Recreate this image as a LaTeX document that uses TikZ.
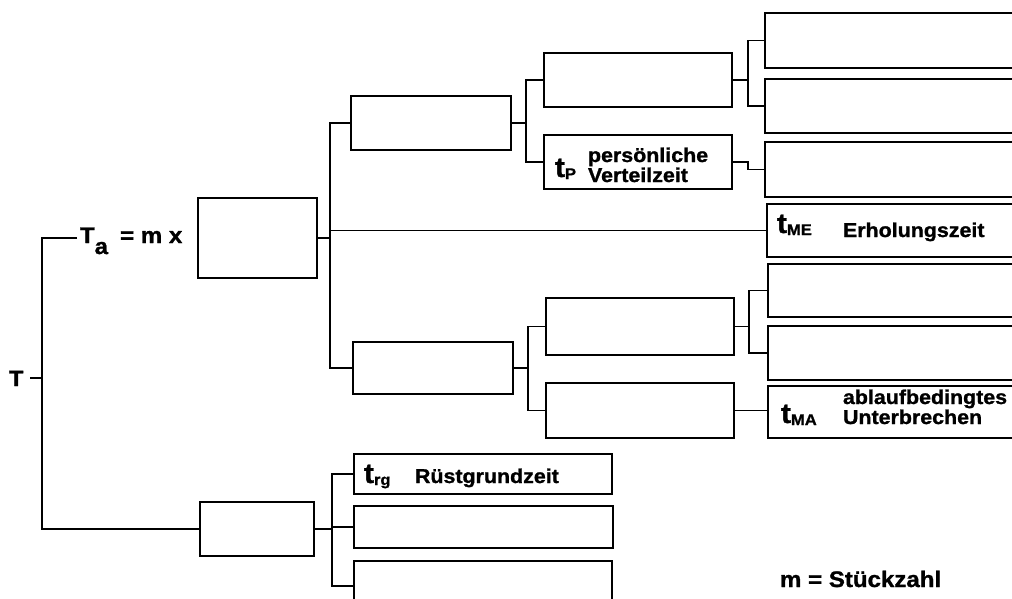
\documentclass[tikz,border=0pt]{standalone}
\usepackage{fontspec}
\setmainfont[FakeStretch=1.07,BoldFeatures={FakeBold=1.2}]{Liberation Sans}
\newcommand{\lbl}{\fontsize{20}{21}\selectfont\bfseries}
\newcommand{\bigt}[1]{{\fontsize{28}{28}\selectfont\bfseries t}\raisebox{-2pt}{\fontsize{15.5}{15.5}\selectfont\bfseries #1}}
\begin{document}
\begin{tikzpicture}[x=1pt,y=-1pt,
  box/.style={draw,line width=1.7pt,inner sep=0pt,outer sep=0pt,rectangle},
  txt/.style={anchor=base west,inner sep=0pt,outer sep=0pt,font=\lbl},
  conn/.style={line width=1.6pt}]
\useasboundingbox (0,0) rectangle (1012,598);
\clip (0,0) rectangle (1012,598);
% boxes
\node[box,minimum width=119pt,minimum height=80pt] (Ta)  at (257.5,238) {};
\node[box,minimum width=160pt,minimum height=54pt] (A)   at (431,123) {};
\node[box,minimum width=160pt,minimum height=52pt] (B)   at (433,368) {};
\node[box,minimum width=188pt,minimum height=54pt] (A1)  at (638,80) {};
\node[box,minimum width=188pt,minimum height=54pt] (tP)  at (638,162) {};
\node[box,minimum width=255pt,minimum height=55pt] (A1a) at (892.5,40.5) {};
\node[box,minimum width=255pt,minimum height=54pt] (A1b) at (892.5,106) {};
\node[box,minimum width=255pt,minimum height=55pt] (A2a) at (892.5,169.5) {};
\node[box,minimum width=253pt,minimum height=53pt] (tME) at (893.5,230.5) {};
\node[box,minimum width=188pt,minimum height=57pt] (B1)  at (640,326.5) {};
\node[box,minimum width=188pt,minimum height=55pt] (B2)  at (640,410.5) {};
\node[box,minimum width=252pt,minimum height=53pt] (B1a) at (894,290.5) {};
\node[box,minimum width=252pt,minimum height=54pt] (B1b) at (894,353) {};
\node[box,minimum width=252pt,minimum height=52pt] (tMA) at (894,412) {};
\node[box,minimum width=114pt,minimum height=54pt] (C)   at (257,529) {};
\node[box,minimum width=258pt,minimum height=40pt] (trg) at (483,474) {};
\node[box,minimum width=259pt,minimum height=42pt] (C2)  at (483.5,527) {};
\node[box,minimum width=258pt,minimum height=50pt] (C3)  at (483,586) {};
% texts
\node[txt,font=\fontsize{22}{22}\selectfont\bfseries] (T) at (9,386) {T};
\node[txt,font=\fontsize{22.5}{22.5}\selectfont\bfseries] (TaL) at (80,243) {T\raisebox{-11pt}{a}\hspace{12pt}= m x};
\node[txt] (tPt) at (555,177) {\bigt{P}};
\node[txt] (tPa) at (588,162) {persönliche};
\node[txt] (tPb) at (588,182) {Verteilzeit};
\node[txt] (tMEt) at (777,233) {\bigt{ME}};
\node[txt] (tMEa) at (843,237) {Erholungszeit};
\node[txt] (tMAt) at (781,423) {\bigt{MA}};
\node[txt] (tMAa) at (843,404) {ablaufbedingtes};
\node[txt] (tMAb) at (843,424) {Unterbrechen};
\node[txt] (trgt) at (364,483) {\bigt{rg}};
\node[txt] (trga) at (415,483) {Rüstgrundzeit};
\node[txt,font=\fontsize{22.5}{22.5}\selectfont\bfseries] (m) at (780,587) {m = Stückzahl};
% bus coordinates
\coordinate (b0) at (42,238);
\coordinate (b1) at (330,0);
\coordinate (bA) at (526,0);
\coordinate (bA1) at (748,0);
\coordinate (bB) at (528,0);
\coordinate (bB1) at (749,0);
\coordinate (bC) at (332,0);
% connectors
\draw[conn] ([xshift=7pt]T.east |- 0,378) -- (b0 |- 0,378);
\draw[conn] ([xshift=-3pt]TaL.west |- b0) -- (b0) -- (b0 |- C.west) -- (C.west);
\draw[conn] (Ta.east) -- (Ta.east -| b1);
\draw[conn] (A.west) -- (A.west -| b1) -- (B.west -| b1) -- (B.west);
\draw[conn] (tME.west -| b1) -- (tME.west);
\draw[conn] (A.east) -- (A.east -| bA);
\draw[conn] (A1.west) -- (A1.west -| bA) -- (tP.west -| bA) -- (tP.west);
\draw[conn] (A1.east) -- (A1.east -| bA1);
\draw[conn] (A1a.west) -- (A1a.west -| bA1) -- (A1b.west -| bA1) -- (A1b.west);
\draw[conn] (tP.east) -- (tP.east -| bA1) -- (A2a.west -| bA1) -- (A2a.west);
\draw[conn] (B.east) -- (B.east -| bB);
\draw[conn] (B1.west) -- (B1.west -| bB) -- (B2.west -| bB) -- (B2.west);
\draw[conn] (B1.east) -- (B1.east -| bB1);
\draw[conn] (B1a.west) -- (B1a.west -| bB1) -- (B1b.west -| bB1) -- (B1b.west);
\draw[conn] (B2.east) -- (B2.east -| tMA.west);
\draw[conn] (C.east) -- (C.east -| bC);
\draw[conn] (trg.west) -- (trg.west -| bC) -- (C3.west -| bC) -- (C3.west);
\draw[conn] (C2.west) -- (C2.west -| bC);
\end{tikzpicture}
\end{document}
